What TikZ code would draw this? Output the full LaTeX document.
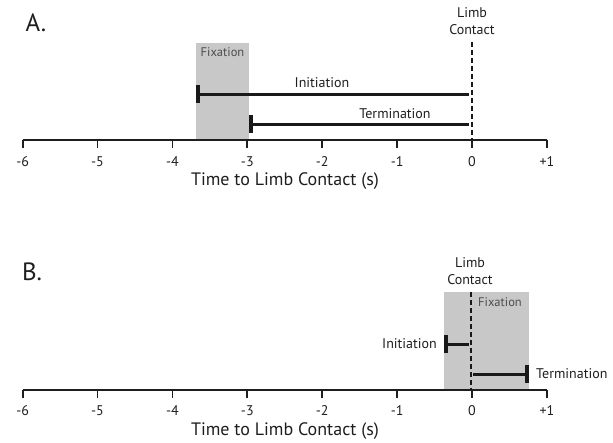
\documentclass[tikz,border=0pt]{standalone}
\usepackage{fontspec}
\setmainfont{PT Sans}
\definecolor{txt}{HTML}{1E1E1E}
\definecolor{fixgray}{HTML}{C8C8C8}
\begin{document}
\begin{tikzpicture}[x=1pt,y=-1pt,
  axisline/.style={line width=1.8pt, draw=txt},
  tickline/.style={line width=1.8pt, draw=txt},
  bar/.style={line width=3pt, draw=black!90},
  capline/.style={line width=3.5pt, draw=black!90},
  contact/.style={line width=1.5pt, draw=black!90, dash pattern=on 5pt off 3pt},
  ticklbl/.style={text=txt, font=\fontsize{14}{16}\selectfont, inner sep=0pt},
  axtitle/.style={text=txt, font=\fontsize{18}{20}\selectfont, inner sep=0pt},
  lbl/.style={text=txt, font=\fontsize{14}{16}\selectfont, inner sep=0pt},
  fixlbl/.style={text=black!70, font=\fontsize{12.5}{14}\selectfont, inner sep=0pt},
  panel/.style={text=txt, font=\fontsize{25}{28}\selectfont, inner sep=0pt},
  contactlbl/.style={text=txt, font=\fontsize{14}{17}\selectfont, inner sep=0pt, align=center}]
\useasboundingbox (0,0) rectangle (613,442);

% ---------------- Panel A ----------------
\node[panel] (pA) at (36,23) {A.};
\fill[fixgray] (196,43) rectangle (249,140);
\node[fixlbl] (fixA) at (222.5,52) {Fixation};
\coordinate (axAl) at (22.6,140);
\coordinate (axAr) at (547,140);
\draw[axisline] (axAl) -- (axAr);
\foreach \v/\t [count=\k] in {-6/-6,-5/-5,-4/-4,-3/-3,-2/-2,-1/-1,0/0,1/+1}{
  \draw[tickline] (472+74.9*\v,140) -- ++(0,8);
  \node[ticklbl] (tA\k) at (472+74.9*\v,162) {\t};
}
\node[axtitle] (titleA) at (285,181) {Time to Limb Contact (s)};
\node[contactlbl] (lcA) at (472,21) {Limb\\Contact};
\coordinate (dAt) at (472,42);
\coordinate (dAb) at (472,140);
\draw[contact] (dAt) -- (dAb);
% Initiation
\coordinate (iAl) at (198,94);
\coordinate (iAr) at (469,94);
\draw[bar] (iAl) -- (iAr);
\draw[capline] (198,85) -- (198,103);
\node[lbl] (iAlbl) at (322,83) {Initiation};
% Termination
\coordinate (tAl) at (251,124);
\coordinate (tAr) at (469,124);
\draw[bar] (tAl) -- (tAr);
\draw[capline] (251,115) -- (251,133);
\node[lbl] (tAlbl) at (395,114) {Termination};

% ---------------- Panel B ----------------
\node[panel] (pB) at (32,272) {B.};
\fill[fixgray] (444,292) rectangle (529,390);
\node[fixlbl] (fixB) at (500,302) {Fixation};
\coordinate (axBl) at (22.6,390);
\coordinate (axBr) at (547,390);
\draw[axisline] (axBl) -- (axBr);
\foreach \v/\t [count=\k] in {-6/-6,-5/-5,-4/-4,-3/-3,-2/-2,-1/-1,0/0,1/+1}{
  \draw[tickline] (472+74.9*\v,390) -- ++(0,8);
  \node[ticklbl] (tB\k) at (472+74.9*\v,411) {\t};
}
\node[axtitle] (titleB) at (285,431) {Time to Limb Contact (s)};
\node[contactlbl] (lcB) at (470,271) {Limb\\Contact};
\coordinate (dBt) at (471,292);
\coordinate (dBb) at (471,390);
\draw[contact] (dBt) -- (dBb);
% Initiation
\coordinate (iBl) at (446,344);
\coordinate (iBr) at (469,344);
\draw[bar] (iBl) -- (iBr);
\draw[capline] (446,335) -- (446,353);
\node[lbl, anchor=east] (iBlbl) at (437,344) {Initiation};
% Termination
\coordinate (tBl) at (473,374);
\coordinate (tBr) at (527,374);
\draw[bar] (tBl) -- (tBr);
\draw[capline] (527,365) -- (527,383);
\node[lbl, anchor=west] (tBlbl) at (536,374) {Termination};
\end{tikzpicture}
\end{document}
